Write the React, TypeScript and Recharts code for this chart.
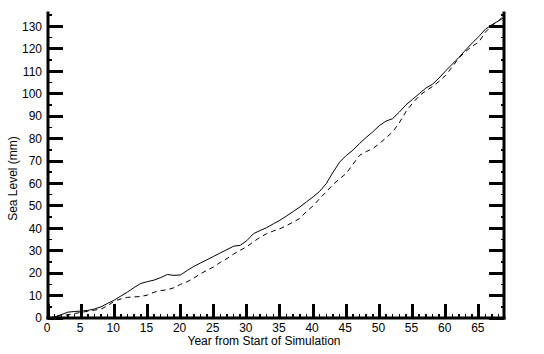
import React from 'react';
import { LineChart, Line, XAxis, YAxis } from 'recharts';

const years = [0, 1, 2, 3, 4, 5, 6, 7, 8, 9, 10, 11, 12, 13, 14, 15, 16, 17, 18, 19, 20, 21, 22, 23, 24, 25, 26, 27, 28, 29, 30, 31, 32, 33, 34, 35, 36, 37, 38, 39, 40, 41, 42, 43, 44, 45, 46, 47, 48, 49, 50, 51, 52, 53, 54, 55, 56, 57, 58, 59, 60, 61, 62, 63, 64, 65, 66, 67, 68, 68.8];

const solidLevel = [0, 0.5, 1.5, 2.6, 2.9, 3.1, 3.4, 4.0, 5.0, 6.5, 8.0, 9.8, 11.6, 13.6, 15.4, 16.2, 16.9, 18.0, 19.4, 19.0, 19.2, 21.2, 23.0, 24.5, 26.0, 27.5, 29.0, 30.5, 32.0, 32.4, 34.5, 37.6, 39.0, 40.3, 42.0, 43.6, 45.5, 47.5, 49.5, 51.8, 54.0, 56.5, 60.0, 65.0, 69.5, 72.5, 74.8, 77.8, 80.5, 83.0, 85.8, 87.8, 88.9, 91.8, 95.0, 97.5, 100.0, 102.5, 104.2, 107.0, 110.2, 113.2, 116.2, 119.5, 122.6, 125.5, 128.8, 130.8, 132.5, 134.0];

const dashedLevel = [0, 0.5, 1.0, 1.4, 2.0, 2.5, 3.0, 3.5, 4.0, 5.5, 7.5, 8.5, 9.2, 9.4, 9.6, 10.2, 11.5, 12.2, 12.6, 13.5, 15.0, 16.2, 17.8, 19.7, 21.3, 22.8, 24.8, 26.5, 28.5, 30.2, 31.8, 34.0, 36.0, 37.6, 38.8, 39.8, 41.2, 42.8, 44.4, 47.5, 50.0, 53.3, 56.3, 59.5, 62.0, 64.5, 68.5, 72.5, 74.2, 75.5, 77.8, 80.3, 83.0, 87.0, 92.0, 95.8, 99.0, 101.3, 103.2, 105.5, 108.2, 112.0, 116.0, 118.8, 121.2, 123.0, 127.5, 130.5, 132.5, 135.0];

const xTicks = [0, 1, 2, 3, 4, 5, 6, 7, 8, 9, 10, 11, 12, 13, 14, 15, 16, 17, 18, 19, 20, 21, 22, 23, 24, 25, 26, 27, 28, 29, 30, 31, 32, 33, 34, 35, 36, 37, 38, 39, 40, 41, 42, 43, 44, 45, 46, 47, 48, 49, 50, 51, 52, 53, 54, 55, 56, 57, 58, 59, 60, 61, 62, 63, 64, 65, 66, 67, 68];
const yTicks = [0, 5, 10, 15, 20, 25, 30, 35, 40, 45, 50, 55, 60, 65, 70, 75, 80, 85, 90, 95, 100, 105, 110, 115, 120, 125, 130, 135];

const data = years.map((y, i) => ({ year: y, solid: solidLevel[i], dashed: dashedLevel[i] }));

const FONT = '"Liberation Sans", Arial, sans-serif';

const BottomTick = (props: any) => {
  const { x, y, payload } = props;
  const v = payload.value;
  const major = v % 5 === 0;
  return (
    <g>
      <line x1={x} x2={x} y1={y} y2={y - (major ? 14 : 4)} stroke="#000" strokeWidth={major ? 3 : 1.5} shapeRendering="crispEdges" />
      {major && (
        <text x={x - 1} y={y + 14} textAnchor="middle" fontSize={12} fontFamily={FONT} fill="#000">
          {v}
        </text>
      )}
    </g>
  );
};

const TopTick = (props: any) => {
  const { x, y, payload } = props;
  const v = payload.value;
  const major = v % 5 === 0;
  return (
    <line x1={x} x2={x} y1={y} y2={y + (major ? 14 : 4)} stroke="#000" strokeWidth={major ? 3 : 1.5} shapeRendering="crispEdges" />
  );
};

const LeftTick = (props: any) => {
  const { x, y, payload } = props;
  const v = payload.value;
  const major = v % 10 === 0;
  return (
    <g>
      <line x1={x} x2={x + (major ? 15 : 4)} y1={y} y2={y} stroke="#000" strokeWidth={major ? 3 : 1.5} shapeRendering="crispEdges" />
      {major && (
        <text x={x - 6} y={y} dy="0.36em" textAnchor="end" fontSize={12} fontFamily={FONT} fill="#000">
          {v}
        </text>
      )}
    </g>
  );
};

const RightTick = (props: any) => {
  const { x, y, payload } = props;
  const v = payload.value;
  const major = v % 10 === 0;
  return (
    <line x1={x} x2={x - (major ? 15 : 3)} y1={y} y2={y} stroke="#000" strokeWidth={major ? 3 : 1.5} shapeRendering="crispEdges" />
  );
};

const axisLine = { stroke: '#000', strokeWidth: 3, strokeLinecap: 'square' as const };

export default function App() {
  return (
    <div style={{ position: 'absolute', left: 0, top: 0, width: 544, height: 354, background: '#fff' }}>
      <LineChart width={544} height={354} data={data} margin={{ top: 13, right: 0, bottom: 0, left: 0 }}>
        <XAxis
          xAxisId="bottom"
          dataKey="year"
          type="number"
          domain={[0, 68.8]}
          ticks={xTicks}
          interval={0}
          height={36}
          tickSize={0}
          tickMargin={0}
          tickLine={false}
          axisLine={axisLine}
          tick={<BottomTick />}
          allowDataOverflow
        />
        <XAxis
          xAxisId="top"
          orientation="top"
          dataKey="year"
          type="number"
          domain={[0, 68.8]}
          ticks={xTicks}
          interval={0}
          height={0}
          tickSize={0}
          tickMargin={0}
          tickLine={false}
          axisLine={axisLine}
          tick={<TopTick />}
          allowDataOverflow
        />
        <YAxis
          yAxisId="left"
          type="number"
          domain={[0, 136]}
          ticks={yTicks}
          interval={0}
          width={48}
          tickSize={0}
          tickMargin={0}
          tickLine={false}
          axisLine={axisLine}
          tick={<LeftTick />}
          allowDataOverflow
        />
        <YAxis
          yAxisId="right"
          orientation="right"
          type="number"
          domain={[0, 136]}
          ticks={yTicks}
          interval={0}
          width={40}
          tickSize={0}
          tickMargin={0}
          tickLine={false}
          axisLine={axisLine}
          tick={<RightTick />}
          allowDataOverflow
        />
        <Line
          xAxisId="bottom"
          yAxisId="left"
          type="linear"
          dataKey="solid"
          stroke="#000"
          strokeWidth={1}
          dot={false}
          isAnimationActive={false}
        />
        <Line
          xAxisId="bottom"
          yAxisId="left"
          type="linear"
          dataKey="dashed"
          stroke="#000"
          strokeWidth={1}
          strokeDasharray="5 4"
          dot={false}
          isAnimationActive={false}
        />
      </LineChart>
      <svg width={544} height={354} style={{ position: 'absolute', left: 0, top: 0, pointerEvents: 'none' }}>
        <text x={264} y={345} textAnchor="middle" fontSize={12} fontFamily={FONT} fill="#000">
          Year from Start of Simulation
        </text>
        <text
          x={0}
          y={0}
          transform="translate(17 178.5) rotate(-90)"
          textAnchor="middle"
          fontSize={12}
          fontFamily={FONT}
          fill="#000"
        >
          Sea Level (mm)
        </text>
      </svg>
    </div>
  );
}
